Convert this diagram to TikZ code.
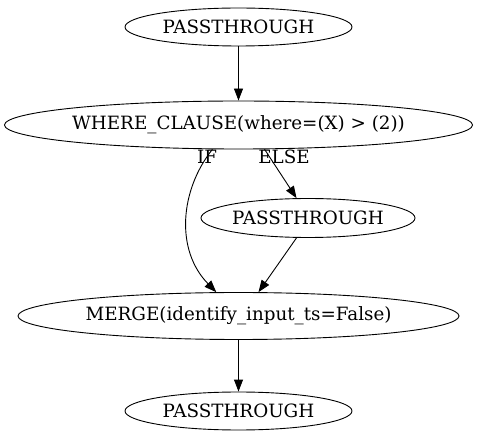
\documentclass[tikz,border=0pt]{standalone}
\usepackage{fontspec}
\setmainfont{DejaVu Serif}
\usetikzlibrary{shapes.geometric,arrows.meta}
\tikzset{
  gnode/.style={ellipse, draw, line width=0.9pt, inner sep=0pt, font=\fontsize{18.3}{21}\selectfont},
  gedge/.style={line width=0.9pt, -{Triangle[length=12pt,width=9pt]}},
  glabel/.style={font=\fontsize{18.3}{21}\selectfont, inner sep=0pt}
}
\newcommand{\zt}[1]{\makebox[0pt][c]{#1}}
\begin{document}
\begin{tikzpicture}[x=1pt,y=-1pt]
\useasboundingbox (0,0) rectangle (479,443);
\node[gnode, minimum width=227pt, minimum height=38pt] (t) at (238.5,27) {\zt{PASSTHROUGH}};
\node[gnode, minimum width=468pt, minimum height=48pt] (w) at (238.5,125) {\zt{WHERE\_CLAUSE(where=(X) > (2))}};
\node[gnode, minimum width=214pt, minimum height=39pt] (p) at (308,218) {\zt{PASSTHROUGH}};
\node[gnode, minimum width=441pt, minimum height=47pt] (m) at (238.5,316) {\zt{MERGE(identify\_input\_ts=False)}};
\node[gnode, minimum width=227pt, minimum height=38pt] (b) at (238.5,411) {\zt{PASSTHROUGH}};
\draw[gedge] (t.south) -- (w.north);
\draw[gedge] (w.223) .. controls (180,190) and (175,250) .. (m.133);
\draw[gedge] (w.-43) -- (p.120);
\draw[gedge] (p.240) -- (m.50);
\draw[gedge] (m.south) -- (b.north);
\node[glabel] (lif) at (207,157) {IF};
\node[glabel] (lelse) at (284,157) {ELSE};
\end{tikzpicture}
\end{document}
